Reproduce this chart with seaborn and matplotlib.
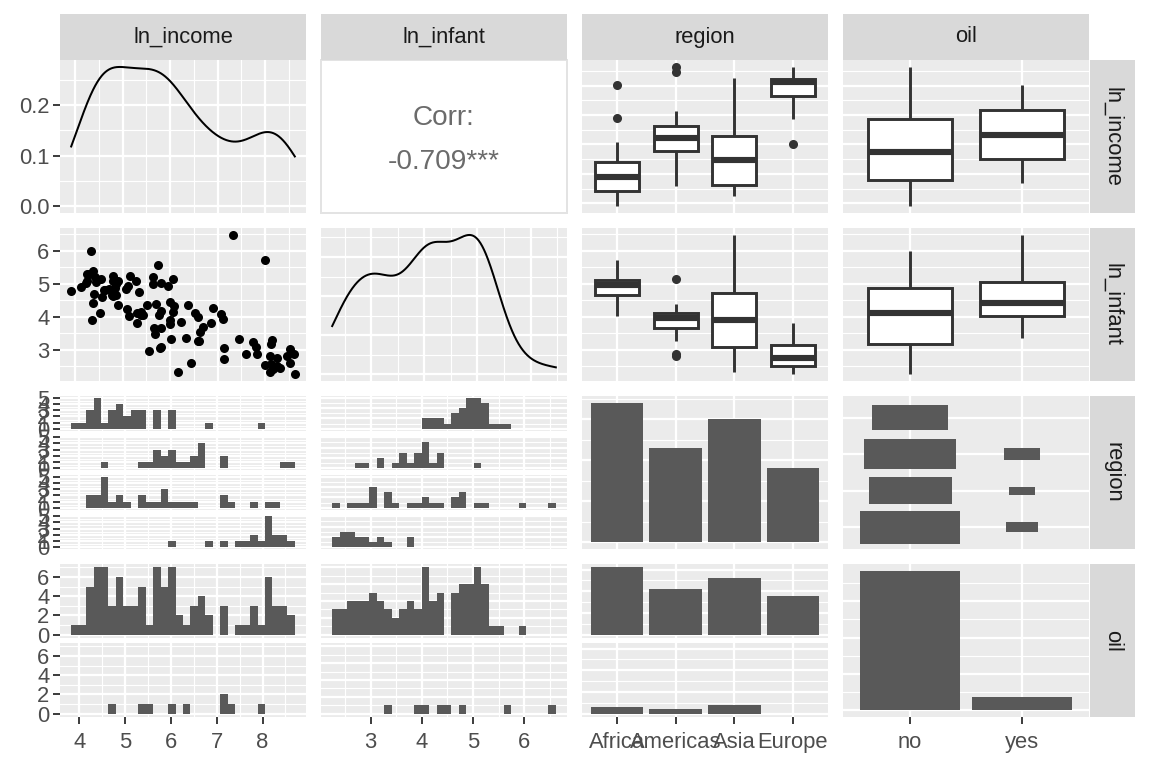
import numpy as np
import pandas as pd
import seaborn as sns
import matplotlib
matplotlib.use("Agg")
import matplotlib.pyplot as plt
from matplotlib.ticker import FixedLocator, FixedFormatter

# values: ln(income), ln(infant) per country, by region
# (oil == "yes" countries are listed last in each region, nan = infant missing)
africa_income = [3.912, 4.111, 4.220, 4.248, 4.248, 4.369, 4.369, 4.394, 4.407, 4.443,
                 4.550, 4.771, 4.787, 4.787, 4.804, 4.828, 4.868, 4.898, 5.075, 5.106,
                 5.130, 5.159, 5.283, 5.347, 5.380, 5.631, 5.638, 5.736, 5.958, 6.073,
                 6.908, 5.394, 5.991, 8.010]
africa_infant = [4.787, 4.890, 5.011, 5.075, 5.298, 4.420, 5.375, 4.697, 5.193, 5.063,
                 5.136, 4.644, 5.091, 4.625, 5.247, 4.863, 4.999, 5.075, 4.844, 4.924,
                 4.007, 5.231, 5.070, 4.736, 4.154, 5.004, 5.193, 5.557, 4.927, 4.335,
                 4.270, 4.060, 4.458, 5.704]
africa_oil = ["no"] * 31 + ["yes"] * 3

americas_income = [4.605, 5.300, 5.710, 5.650, 5.765, 5.811, 5.814, 6.006, 6.052, 6.054,
                   6.228, 6.380, 6.528, 6.586, 6.600, 6.596, 6.625, 6.683, 7.083, 8.466,
                   8.617, 5.520, 7.123]
americas_infant = [np.nan, 4.100, 4.371, 3.671, 4.064, 3.653, 4.176, 3.888, 5.136, 4.130,
                   3.829, 4.357, 4.109, 3.990, 3.266, 3.266, 3.529, 3.699, 4.088, 2.821,
                   2.868, 4.363, 3.945]
americas_oil = ["no"] * 21 + ["yes"] * 2

asia_income = [4.290, 4.260, 4.330, 4.350, 4.605, 4.530, 4.500, 4.625, 4.560, 4.850,
               4.900, 5.090, 5.420, 5.300, 5.550, 5.690, 5.784, 5.810, 5.800, 6.020,
               6.170, 6.450, 7.130, 7.820, 8.139, 8.250, 4.700, 6.330, 7.155, 7.333]
asia_infant = [5.280, np.nan, 5.990, 3.910, 4.820, 4.100, np.nan, 4.800, 4.600, 4.650,
               4.360, 4.220, 4.060, 3.810, 2.950, 3.470, 3.060, 3.080, 5.030, 3.330,
               2.320, 2.610, 3.050, 3.080, 3.285, 2.750, 4.830, 3.340, np.nan, 6.477]
asia_oil = ["no"] * 26 + ["yes"] * 4

europe_income = [8.630, 8.523, 8.525, 8.319, 8.260, 8.117, 8.115, 8.105, 8.132, 8.173,
                 7.994, 7.740, 7.825, 7.605, 7.460, 7.136, 6.863, 6.000]
europe_infant = [2.262, 2.603, 3.016, 2.451, 2.500, 3.165, 2.800, 2.313, 2.557, 2.425,
                 2.549, 3.246, 2.862, 2.879, 3.325, 2.715, 3.802, 3.768]
europe_oil = ["no"] * 18

regions = ["Africa", "Americas", "Asia", "Europe"]
oil_levels = ["no", "yes"]
variables = ["ln_income", "ln_infant", "region", "oil"]
corr_label = "-0.709***"

parts = [("Africa", africa_income, africa_infant, africa_oil),
         ("Americas", americas_income, americas_infant, americas_oil),
         ("Asia", asia_income, asia_infant, asia_oil),
         ("Europe", europe_income, europe_infant, europe_oil)]
df = pd.concat([pd.DataFrame({"ln_income": inc, "ln_infant": inf, "region": reg, "oil": oil})
                for reg, inc, inf, oil in parts], ignore_index=True)

plt.rcParams["font.family"] = ["Liberation Sans", "DejaVu Sans"]

PANEL = "#EBEBEB"
STRIP = "#D9D9D9"
BAR = "#595959"
DARK = "#333333"
TXT = "#4D4D4D"
FS = 16.5

W, H = 1152, 768
COLX = [60, 321, 582, 843]
ROWY = [60, 228, 396, 564]
PW, PH = 246, 153
GAP = 5

fig = plt.figure(figsize=(12, 8), dpi=96)


def add_ax(x0, y0, w, h):
    return fig.add_axes([x0 / W, 1 - (y0 + h) / H, w / W, h / H])


def cont(lo, hi, step, pad=0.05):
    span = hi - lo
    lim = (lo - pad * span, hi + pad * span)
    first = np.ceil(lo / step - 1e-9) * step + 0.0
    major = [m + 0.0 for m in np.arange(first, hi + 1e-9, step)]
    minor = np.arange(first - step / 2, lim[1], step)
    minor = list(minor[(minor > lim[0]) & (minor < lim[1])])
    return lim, major, minor


def cat(n):
    return (-0.6, n - 0.4), list(range(n)), []


def count_step(c):
    if c <= 5:
        return 1
    if c <= 10:
        return 2
    if c <= 40:
        return 10
    return 25


def dress(ax, xs, ys, xlab=None, ylab=None):
    (xlim, xM, xm), (ylim, yM, ym) = xs, ys
    ax.set_xlim(xlim)
    ax.set_ylim(ylim)
    ax.set_facecolor(PANEL)
    for s in ax.spines.values():
        s.set_visible(False)
    ax.xaxis.set_major_locator(FixedLocator(xM))
    ax.xaxis.set_minor_locator(FixedLocator(xm))
    ax.yaxis.set_major_locator(FixedLocator(yM))
    ax.yaxis.set_minor_locator(FixedLocator(ym))
    ax.grid(True, which="major", color="white", linewidth=1.7)
    ax.grid(True, which="minor", color="white", linewidth=0.85)
    ax.set_axisbelow(True)
    ax.set_xlabel("")
    ax.set_ylabel("")
    ax.tick_params(which="minor", length=0)
    ax.tick_params(which="major", length=5, width=1.4, color=DARK,
                   labelsize=FS, labelcolor=TXT, pad=3)
    ax.tick_params(axis="x", which="major", pad=6)
    if xlab is None:
        ax.tick_params(axis="x", which="major", length=0, labelbottom=False)
    else:
        ax.xaxis.set_major_formatter(FixedFormatter(xlab))
    if ylab is None:
        ax.tick_params(axis="y", which="major", length=0, labelleft=False)
    else:
        ax.yaxis.set_major_formatter(FixedFormatter(ylab))


def fmt(vals):
    return ["%g" % (v + 0.0) for v in vals]


def gg_edges(v, bins=30):
    lo, hi = v.min(), v.max()
    w = (hi - lo) / (bins - 1)
    b = w / 2
    origin = b + np.floor((lo - b) / w) * w
    max_x = hi + (1 - 1e-8) * w
    n = int(np.floor((max_x - origin) / w + 1e-10))
    edges = origin + w * np.arange(n + 1)
    if len(edges) > 2 and edges[-2] >= hi:
        edges = edges[:-1]
    return edges


def nrd0_factor(v):
    sd = v.std(ddof=1)
    iqr = np.subtract(*np.percentile(v, [75, 25]))
    h = 0.9 * min(sd, iqr / 1.34) * len(v) ** -0.2
    return h / sd


def density(col, r, c, ylab=False):
    ax = add_ax(COLX[c], ROWY[r], PW, PH)
    v = df[col].dropna().values
    sns.kdeplot(x=v, bw_method=nrd0_factor(v), cut=0, gridsize=512,
                color="black", linewidth=1.5, ax=ax)
    ymax = ax.lines[0].get_ydata().max()
    ys = cont(0, ymax, 0.1)
    dress(ax, cont(v.min(), v.max(), 1), ys,
          ylab=["%.1f" % (t + 0.0) for t in ys[1]] if ylab else None)


def boxes(ycol, xcol, levels, r, c):
    ax = add_ax(COLX[c], ROWY[r], PW, PH)
    sns.boxplot(data=df, x=xcol, y=ycol, order=levels, ax=ax, width=0.75,
                color="white", linecolor=DARK, linewidth=2.2, showcaps=False,
                medianprops=dict(linewidth=4.6, color=DARK),
                flierprops=dict(marker="o", markersize=6.8, markerfacecolor=DARK,
                                markeredgecolor=DARK, markeredgewidth=0))
    v = df[ycol].dropna()
    dress(ax, cat(len(levels)), cont(v.min(), v.max(), 1))


def facet_hist(col, by, levels, r, c, ylab=False, xlab=False):
    v_all = df[col].dropna().values
    edges = gg_edges(v_all)
    n = len(levels)
    sh = (PH - GAP * (n - 1)) / n
    cmax = max(np.histogram(df.loc[df[by] == lv, col].dropna(), bins=edges)[0].max()
               for lv in levels)
    xs = cont(edges[0], edges[-1], 1)
    ys = cont(0, cmax, count_step(cmax))
    for i, lv in enumerate(levels):
        ax = add_ax(COLX[c], ROWY[r] + i * (sh + GAP), PW, sh)
        sub = df.loc[df[by] == lv, col].dropna()
        if len(sub):
            sns.histplot(x=sub, bins=edges, ax=ax, color=BAR, alpha=1,
                         linewidth=0, edgecolor="none")
        last = i == n - 1
        dress(ax, xs, ys,
              xlab=fmt(xs[1]) if (xlab and last) else None,
              ylab=fmt(ys[1]) if ylab else None)


# ---- row 0 ----
density("ln_income", 0, 0, ylab=True)

ax = add_ax(COLX[1], ROWY[0], PW, PH)
ax.set_facecolor("white")
ax.set_xticks([])
ax.set_yticks([])
for s in ax.spines.values():
    s.set_color("#E3E3E3")
    s.set_linewidth(1.5)
ax.text(0.5, 0.62, "Corr:", ha="center", va="center", fontsize=21,
        color="#6B6B6B", transform=ax.transAxes)
ax.text(0.5, 0.335, corr_label, ha="center", va="center", fontsize=21,
        color="#6B6B6B", transform=ax.transAxes)

boxes("ln_income", "region", regions, 0, 2)
boxes("ln_income", "oil", oil_levels, 0, 3)

# ---- row 1 ----
ax = add_ax(COLX[0], ROWY[1], PW, PH)
sns.scatterplot(data=df, x="ln_income", y="ln_infant", color="black", s=46,
                linewidth=0, ax=ax)
inc = df["ln_income"].dropna()
inf = df["ln_infant"].dropna()
ys = cont(inf.min(), inf.max(), 1)
dress(ax, cont(inc.min(), inc.max(), 1), ys, ylab=fmt(ys[1]))

density("ln_infant", 1, 1)
boxes("ln_infant", "region", regions, 1, 2)
boxes("ln_infant", "oil", oil_levels, 1, 3)

# ---- row 2 ----
facet_hist("ln_income", "region", regions, 2, 0, ylab=True)
facet_hist("ln_infant", "region", regions, 2, 1)

ax = add_ax(COLX[2], ROWY[2], PW, PH)
sns.countplot(data=df, x="region", order=regions, color=BAR, saturation=1,
              width=0.9, linewidth=0, ax=ax)
cm = df["region"].value_counts().max()
dress(ax, cat(4), cont(0, cm, count_step(cm)))

ax = add_ax(COLX[3], ROWY[2], PW, PH)
tab = pd.crosstab(df["region"], df["oil"]).reindex(index=regions, columns=oil_levels, fill_value=0)
tmax = tab.values.max()
for i, reg in enumerate(regions):
    for j, ol in enumerate(oil_levels):
        cnt = tab.loc[reg, ol]
        if cnt == 0:
            continue
        h = 0.45 * np.sqrt(cnt / tmax)
        ax.bar(j, 2 * h, bottom=i - h, width=2 * h, color=BAR, linewidth=0)
dress(ax, cat(2), cat(4))

# ---- row 3 ----
facet_hist("ln_income", "oil", oil_levels, 3, 0, ylab=True, xlab=True)
facet_hist("ln_infant", "oil", oil_levels, 3, 1, xlab=True)

sh = (PH - GAP) / 2
cm = pd.crosstab(df["region"], df["oil"]).values.max()
for i, ol in enumerate(oil_levels):
    ax = add_ax(COLX[2], ROWY[3] + i * (sh + GAP), PW, sh)
    sns.countplot(data=df[df["oil"] == ol], x="region", order=regions, color=BAR,
                  saturation=1, width=0.9, linewidth=0, ax=ax)
    dress(ax, cat(4), cont(0, cm, count_step(cm)), xlab=regions if i == 1 else None)

ax = add_ax(COLX[3], ROWY[3], PW, PH)
sns.countplot(data=df, x="oil", order=oil_levels, color=BAR, saturation=1,
              width=0.9, linewidth=0, ax=ax)
cm = df["oil"].value_counts().max()
dress(ax, cat(2), cont(0, cm, count_step(cm)), xlab=oil_levels)


# ---- strips ----
def strip(x0, y0, w, h, label, rot=0):
    ax = add_ax(x0, y0, w, h)
    ax.set_facecolor(STRIP)
    ax.set_xticks([])
    ax.set_yticks([])
    for s in ax.spines.values():
        s.set_visible(False)
    ax.text(0.5, 0.5, label, rotation=rot, ha="center", va="center",
            fontsize=FS, color="#1A1A1A", transform=ax.transAxes)


for k, name in enumerate(variables):
    strip(COLX[k], 14, PW, 46, name)
    strip(1090, ROWY[k], 45, PH, name, rot=270)

fig.savefig("out.png", dpi=96, facecolor="white")
